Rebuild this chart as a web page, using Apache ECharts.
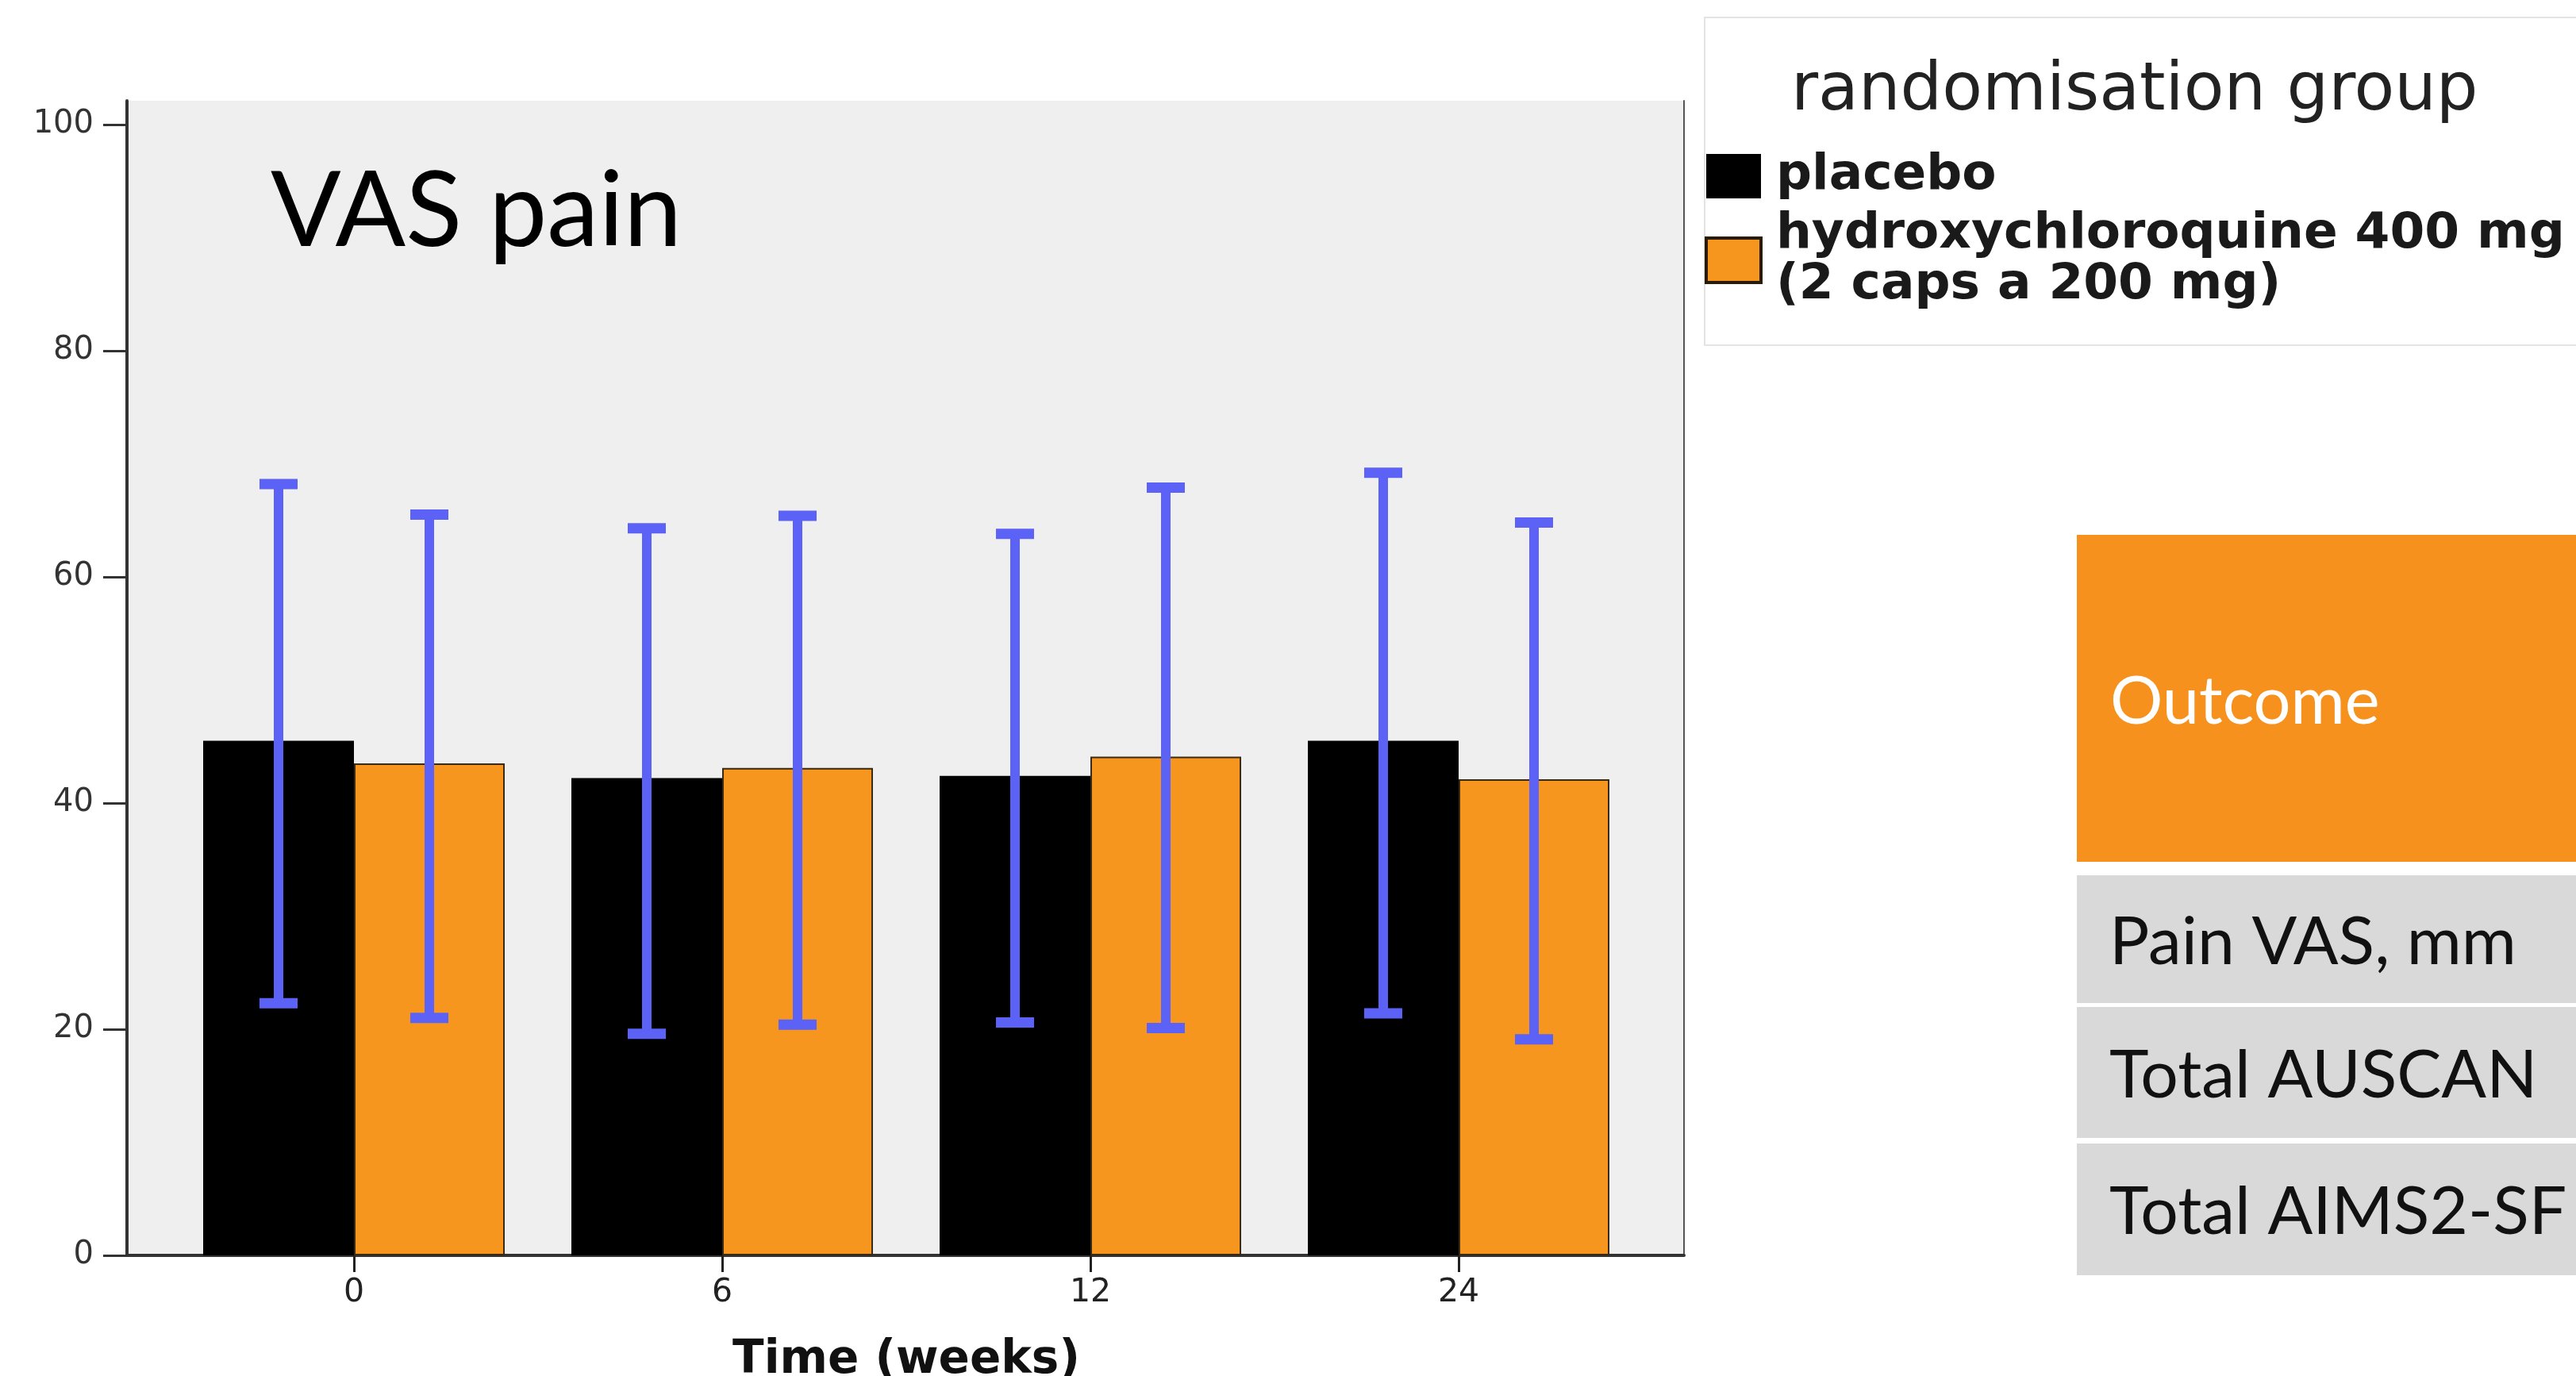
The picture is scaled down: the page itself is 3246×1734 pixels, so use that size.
<!DOCTYPE html>
<html><head><meta charset="utf-8">
<script src="https://cdn.jsdelivr.net/npm/echarts@6/dist/echarts.min.js"></script>
<style>html,body{margin:0;padding:0;background:#fff;}#c{width:3246px;height:1734px;}</style>
</head><body><div id="c"></div>
<script>
// ---- data ----
const weeks = ['0', '6', '12', '24'];
const placeboMean = [45.5, 42.2, 42.4, 45.5];
const placeboLow  = [22.3, 19.6, 20.6, 21.4];
const placeboHigh = [68.2, 64.3, 63.8, 69.2];
const hcqMean = [43.5, 43.1, 44.1, 42.1];
const hcqLow  = [21.0, 20.4, 20.1, 19.1];
const hcqHigh = [65.5, 65.4, 67.9, 64.8];
const yTicks = [0, 20, 40, 60, 80, 100];
const groupNames = ['placebo', 'hydroxychloroquine 400 mg\n(2 caps a 200 mg)'];
const legendTitle = 'randomisation group';
const panelTitle = 'VAS pain';
const xName = 'Time (weeks)';
const tableHeader = 'Outcome';
const tableRows = ['Pain VAS, mm', 'Total AUSCAN', 'Total AIMS2-SF'];

// ---- style ----
const BAR_W = 190;
const ERR_COLOR = '#5b62f5';
const ORANGE = '#f6961e';
const Y_MAX = 102.1;

function errRender(offset) {
  return function (params, api) {
    const i = api.value(0);
    const lo = api.coord([i, api.value(1)]);
    const hi = api.coord([i, api.value(2)]);
    const x = lo[0] + offset;
    const lw = 12, cap = 48, ch = 13;
    return {
      type: 'group',
      children: [
        { type: 'rect', shape: { x: x - lw / 2, y: hi[1], width: lw, height: lo[1] - hi[1] }, style: { fill: ERR_COLOR } },
        { type: 'rect', shape: { x: x - cap / 2, y: hi[1] - ch / 2, width: cap, height: ch }, style: { fill: ERR_COLOR } },
        { type: 'rect', shape: { x: x - cap / 2, y: lo[1] - ch / 2, width: cap, height: ch }, style: { fill: ERR_COLOR } }
      ]
    };
  };
}

const chart = echarts.init(document.getElementById('c'), null, { renderer: 'canvas' });

const rowTops = [1103, 1269, 1441];
const rowHeights = [161, 165, 166];
const tableGraphics = [
  { type: 'rect', shape: { x: 2617, y: 674, width: 660, height: 412 }, style: { fill: '#f7911e' } },
  { type: 'text', x: 2659, y: 885, style: { text: tableHeader, fill: '#ffffff', font: '83px Lato', verticalAlign: 'middle' } }
];
tableRows.forEach(function (t, k) {
  tableGraphics.push({ type: 'rect', shape: { x: 2617, y: rowTops[k], width: 660, height: rowHeights[k] }, style: { fill: '#d9d9d9' } });
  tableGraphics.push({ type: 'text', x: 2658, y: rowTops[k] + rowHeights[k] / 2 + 4, style: { text: t, fill: '#111', font: '84px Lato', verticalAlign: 'middle' } });
});

chart.setOption({
  animation: false,
  backgroundColor: '#ffffff',
  grid: [
    { left: 214, top: 127, width: 1856, height: 1455, show: false, containLabel: false, outerBoundsMode: 'none' },
    { left: 160, top: 127, width: 1962, height: 1455, show: true, backgroundColor: '#efefef', borderWidth: 0, containLabel: false, outerBoundsMode: 'none' }
  ],
  xAxis: [
    {
      gridIndex: 0, type: 'category', data: weeks,
      axisLine: { show: false },
      axisTick: { show: true, alignWithLabel: true, length: 21, lineStyle: { color: '#222', width: 3 } },
      axisLabel: { fontFamily: 'DejaVu Sans', fontSize: 41, color: '#222', margin: 27 },
      splitLine: { show: false },
      name: xName, nameLocation: 'middle', nameGap: 104,
      nameTextStyle: { fontFamily: 'DejaVu Sans', fontWeight: 'bold', fontSize: 58, color: '#111' }
    },
    {
      gridIndex: 1, type: 'value', min: 0, max: 1,
      axisLine: { show: true, lineStyle: { color: '#333', width: 4 } },
      axisTick: { show: false }, axisLabel: { show: false }, splitLine: { show: false }
    }
  ],
  yAxis: [
    { gridIndex: 0, type: 'value', min: 0, max: Y_MAX, show: false, splitLine: { show: false } },
    {
      gridIndex: 1, type: 'value', min: 0, max: Y_MAX, position: 'left',
      axisLine: { show: true, lineStyle: { color: '#333', width: 4 } },
      axisTick: { show: true, length: 30, customValues: yTicks, lineStyle: { color: '#333', width: 3 } },
      axisLabel: { customValues: yTicks, fontFamily: 'DejaVu Sans', fontSize: 40, color: '#333', margin: 42, padding: [12, 0, 0, 0] },
      splitLine: { show: false }
    },
    {
      gridIndex: 1, type: 'value', min: 0, max: Y_MAX, position: 'right',
      axisLine: { show: true, lineStyle: { color: '#555', width: 2 } },
      axisTick: { show: false }, axisLabel: { show: false }, splitLine: { show: false }
    }
  ],
  legend: {
    orient: 'vertical', left: 2148, top: 190, padding: 0,
    itemWidth: 69, itemHeight: 56, itemGap: 10, icon: 'rect', selectedMode: false,
    textStyle: { fontFamily: 'DejaVu Sans', fontWeight: 'bold', fontSize: 63, lineHeight: 64, color: '#1a1a1a', padding: [0, 0, 0, 14] },
    data: [
      { name: groupNames[0], itemStyle: { color: '#000', borderWidth: 0 } },
      { name: groupNames[1], itemStyle: { color: ORANGE, borderColor: '#2a1a08', borderWidth: 4 } }
    ]
  },
  series: [
    {
      name: groupNames[0], type: 'bar', xAxisIndex: 0, yAxisIndex: 0,
      data: placeboMean, barWidth: BAR_W, barGap: '0%',
      itemStyle: { color: '#000000' }
    },
    {
      name: groupNames[1], type: 'bar', xAxisIndex: 0, yAxisIndex: 0,
      data: hcqMean, barWidth: BAR_W, barGap: '0%',
      itemStyle: { color: ORANGE, borderColor: '#3a2a12', borderWidth: 2 }
    },
    {
      type: 'custom', xAxisIndex: 0, yAxisIndex: 0, z: 5,
      renderItem: errRender(-BAR_W / 2),
      data: weeks.map(function (w, i) { return [i, placeboLow[i], placeboHigh[i]]; })
    },
    {
      type: 'custom', xAxisIndex: 0, yAxisIndex: 0, z: 5,
      renderItem: errRender(BAR_W / 2),
      data: weeks.map(function (w, i) { return [i, hcqLow[i], hcqHigh[i]]; })
    }
  ],
  graphic: [
    { type: 'rect', z: -1, shape: { x: 2148, y: 22, width: 1200, height: 413 }, style: { fill: 'none', stroke: '#e4e4e4', lineWidth: 2 } },
    { type: 'text', z: 10, x: 2257, y: 116, style: { text: legendTitle, fill: '#222', font: '83px "DejaVu Sans"', verticalAlign: 'middle' } },
    { type: 'text', z: 10, x: 341, y: 268, style: { text: panelTitle, fill: '#000', font: '131px Lato', verticalAlign: 'middle' } }
  ].concat(tableGraphics)
});
</script>
</body></html>
